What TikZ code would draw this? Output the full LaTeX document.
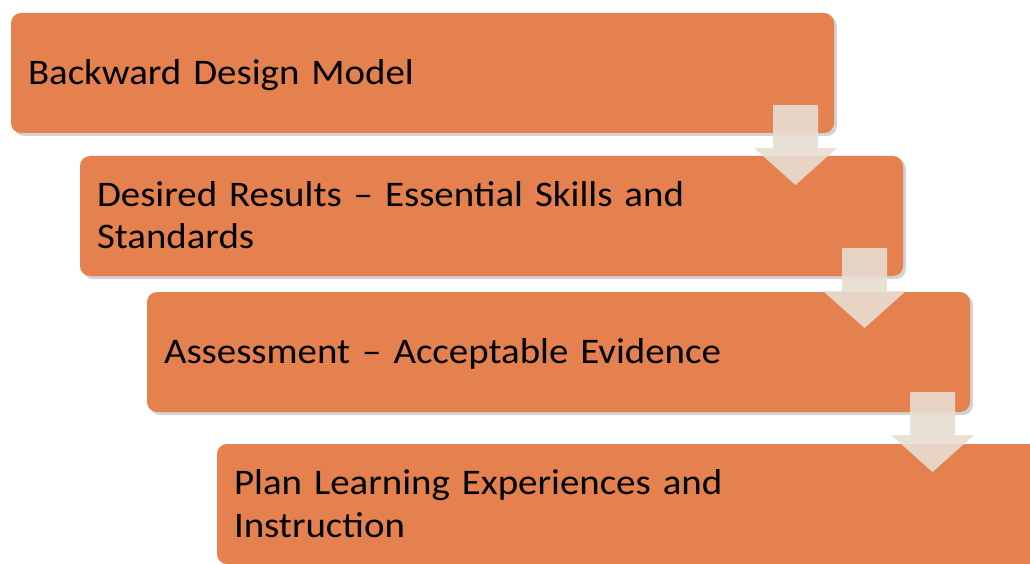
\documentclass[tikz,border=0pt]{standalone}
\usepackage{fontspec}
\setmainfont{Carlito}[FakeStretch=1.08]
\usetikzlibrary{shadows}
\definecolor{boxorange}{RGB}{229,128,79}
\definecolor{arrowfill}{RGB}{232,222,210}
\begin{document}
\begin{tikzpicture}[x=1pt,y=-1pt,
  stepbox/.style={draw=none, fill=boxorange, rounded corners=10pt,
    minimum width=823pt, minimum height=120pt, text width=789pt,
    inner xsep=17pt, inner ysep=0pt, align=left,
    font=\fontsize{36}{43}\selectfont,
    drop shadow={shadow xshift=3pt, shadow yshift=-3pt, opacity=0.35}},
  oneline/.style={text height=23pt, text depth=0pt},
  twoline/.style={text height=23pt, text depth=43pt},
  downarrow/.style={fill=arrowfill, fill opacity=0.9}]
\useasboundingbox (0,0) rectangle (1030,564);
\begin{scope}
\clip (0,0) rectangle (1030,564);
\node[stepbox, oneline] (b1) at (422.5,73) {Backward Design Model};
\node[stepbox, twoline] (b2) at (491.5,216) {Desired Results – Essential Skills and\\Standards};
\node[stepbox, oneline] (b3) at (558.5,352) {Assessment – Acceptable Evidence};
\node[stepbox, twoline] (b4) at (628.5,504) {Plan Learning Experiences and\\Instruction};
\coordinate (a1) at (795.5,105);
\coordinate (a2) at (864.5,248);
\coordinate (a3) at (932.5,392);
\foreach \a in {a1,a2,a3}{
  \fill[downarrow, shift={(\a)}] (-22.5,0) -- (22.5,0) -- (22.5,43) -- (41.5,43)
    -- (0,80) -- (-41.5,43) -- (-22.5,43) -- cycle;
}
\end{scope}
\end{tikzpicture}
\end{document}
